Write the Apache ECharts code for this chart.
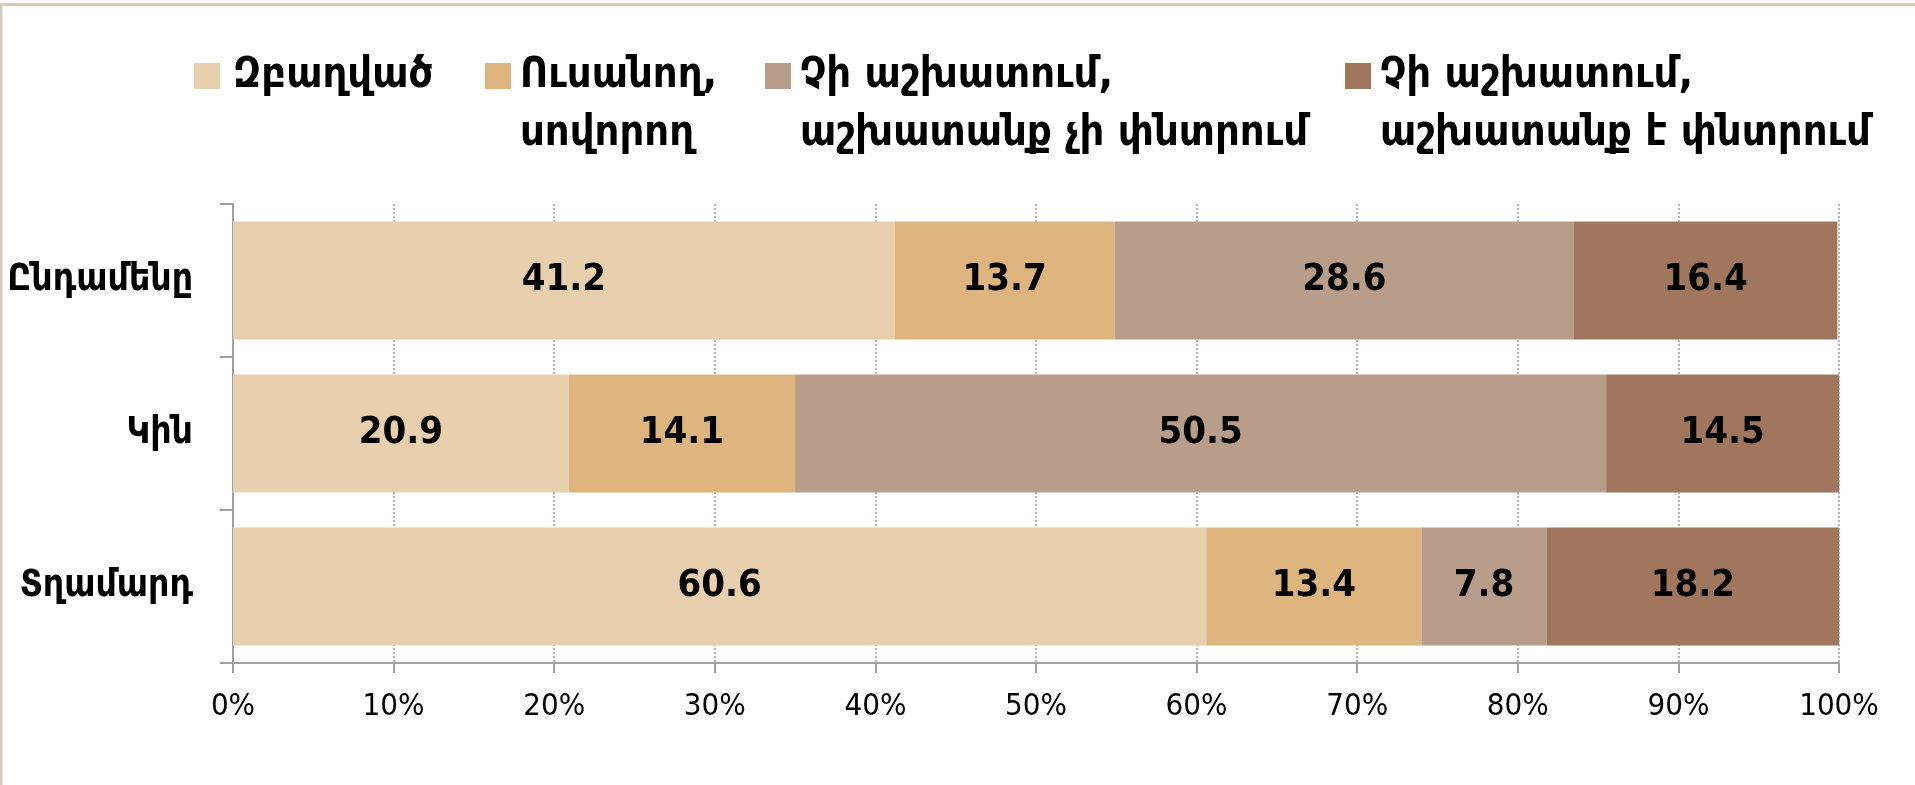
<!DOCTYPE html>
<html>
<head>
<meta charset="utf-8">
<script src="https://cdn.jsdelivr.net/npm/echarts@6/dist/echarts.min.js"></script>
<style>
html,body{margin:0;padding:0;background:#fff;}
#chart{width:1915px;height:785px;}
</style>
</head>
<body>
<div id="chart"></div>
<script>
const categories = ['Ընդամենը', 'Կին', 'Տղամարդ'];
const seriesNames = [
  'Զբաղված',
  'Ուսանող,\nսովորող',
  'Չի աշխատում,\nաշխատանք չի փնտրում',
  'Չի աշխատում,\nաշխատանք է փնտրում'
];
const employed = [41.2, 20.9, 60.6];
const students = [13.7, 14.1, 13.4];
const notLooking = [28.6, 50.5, 7.8];
const looking = [16.4, 14.5, 18.2];
const xTicks = [0, 10, 20, 30, 40, 50, 60, 70, 80, 90, 100];

const colors = ['#E8CFAE', '#DEB57F', '#B89E8A', '#A0775D'];
const valuesList = [employed, students, notLooking, looking];
const FONT = 'DejaVu Sans Condensed';

const chart = echarts.init(document.getElementById('chart'), null, {renderer: 'canvas'});

const legendLefts = [194, 485, 765, 1345];
const legends = seriesNames.map((n, i) => {
  const twoLine = n.indexOf('\n') >= 0;
  return {
    data: [n],
    orient: 'horizontal',
    left: legendLefts[i],
    top: twoLine ? -11 : 47,
    padding: 0,
    icon: 'rect',
    itemWidth: 26,
    itemHeight: 26,
    selectedMode: false,
    formatter: name => (name.indexOf('\n') >= 0 ? '\n' + name : name),
    textStyle: {
      fontFamily: FONT,
      fontWeight: 'bold',
      fontSize: 43,
      color: '#000',
      lineHeight: 58,
      padding: [0, 0, 0, i === 0 ? 8 : 4]
    }
  };
});

const option = {
  backgroundColor: '#fff',
  animation: false,
  color: colors,
  legend: legends,
  grid: {left: 233, right: 76, top: 204, bottom: 122, containLabel: false, outerBoundsMode: 'none'},
  xAxis: {
    type: 'value',
    min: 0,
    max: 100,
    interval: 10,
    axisLine: {show: true, lineStyle: {color: '#A0A0A0', width: 2}},
    axisTick: {show: true, length: 10, lineStyle: {color: '#A0A0A0', width: 2}},
    splitLine: {show: true, lineStyle: {color: '#A0A0A0', width: 1.5, type: [2, 2]}},
    axisLabel: {
      formatter: v => xTicks.indexOf(v) >= 0 ? v + '%' : '',
      fontFamily: FONT, fontSize: 31, color: '#000', margin: 28
    }
  },
  yAxis: {
    type: 'category',
    data: categories,
    inverse: true,
    axisLine: {show: true, lineStyle: {color: '#A0A0A0', width: 2}},
    axisTick: {show: true, length: 13, lineStyle: {color: '#A0A0A0', width: 2}},
    splitLine: {show: false},
    axisLabel: {fontFamily: FONT, fontWeight: 'bold', fontSize: 37, color: '#000', margin: 40}
  },
  series: seriesNames.map((n, i) => ({
    name: n,
    type: 'bar',
    stack: 'total',
    barCategoryGap: '23%',
    data: valuesList[i],
    itemStyle: {color: colors[i]},
    label: {
      show: true,
      position: 'inside',
      formatter: p => p.value.toFixed(1),
      fontFamily: FONT,
      fontWeight: 'bold',
      fontSize: 38,
      color: '#000'
    }
  })),
  graphic: [
    {type: 'line', shape: {x1: 0, y1: 4.5, x2: 1915, y2: 4.5}, style: {stroke: '#D5CCBF', lineWidth: 3}, silent: true},
    {type: 'line', shape: {x1: 1, y1: 3, x2: 1, y2: 785}, style: {stroke: '#D5CCBF', lineWidth: 3}, silent: true}
  ]
};
chart.setOption(option);
</script>
</body>
</html>
